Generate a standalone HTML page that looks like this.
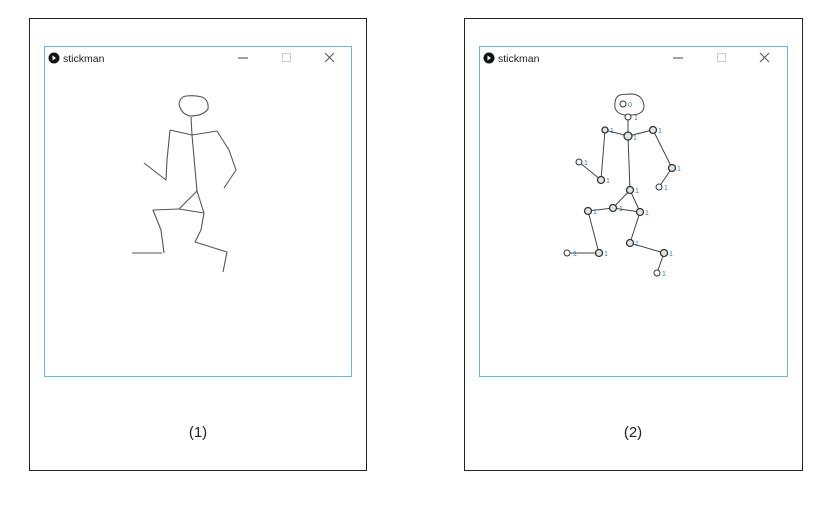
<!DOCTYPE html>
<html><head><style>
body{margin:0;background:#fff;width:832px;height:502px;overflow:hidden;font-family:"Liberation Sans",sans-serif}
</style></head><body>
<svg width="832" height="502" viewBox="0 0 832 502" xmlns="http://www.w3.org/2000/svg" font-family="Liberation Sans, sans-serif">
<rect x="29.5" y="18.5" width="337" height="452" fill="#fff" stroke="#222" stroke-width="1"/>
<rect x="464.5" y="18.5" width="338" height="452" fill="#fff" stroke="#222" stroke-width="1"/>
<rect x="44.5" y="46.5" width="307" height="330" fill="#fff" stroke="#5bc0eb" stroke-width="1"/>
<rect x="479.5" y="46.5" width="308" height="330" fill="#fff" stroke="#5bc0eb" stroke-width="1"/>
<g id="tb1">
<circle cx="54" cy="58" r="5.5" fill="#111"/><path d="M52.5 55.5 L56 58 L52.5 60.5Z" fill="#fff"/>
<text x="63" y="62" font-size="10.5" fill="#222">stickman</text>
<line x1="238" y1="58" x2="248" y2="58" stroke="#444"/>
<rect x="282.5" y="53.5" width="8" height="8" fill="none" stroke="#ccc"/>
<path d="M325 53 L334 62 M334 53 L325 62" stroke="#555"/>
</g>
<g transform="translate(435,0)">
<circle cx="54" cy="58" r="5.5" fill="#111"/><path d="M52.5 55.5 L56 58 L52.5 60.5Z" fill="#fff"/>
<text x="63" y="62" font-size="10.5" fill="#222">stickman</text>
<line x1="238" y1="58" x2="248" y2="58" stroke="#444"/>
<rect x="282.5" y="53.5" width="8" height="8" fill="none" stroke="#ccc"/>
<path d="M325 53 L334 62 M334 53 L325 62" stroke="#555"/>
</g>
<g fill="none" stroke="#555" stroke-width="1.1" stroke-linejoin="round">
<path d="M186 96 Q180 97 179 104 Q181 114 190 116 Q203 116 208 109 Q209 100 202 97 Q195 95 186 96Z"/>
<path d="M191 117 L192 135"/>
<path d="M170 130 L192 135 L217 131"/>
<path d="M170 130 L167 160 L166 180 L144 163"/>
<path d="M217 131 L229 150 L236 170 L224 188"/>
<path d="M192 135 L197 191"/>
<path d="M197 191 L179 209 L204 213 Z"/>
<path d="M179 209 L153 210 L161 230 L164 253"/>
<path d="M132 253 L162 253"/>
<path d="M204 213 L201 230 L195 242 L227 252 L223 272"/>
</g>
<g fill="none" stroke="#444" stroke-width="1">
<path d="M620 95 Q614 97 615 108 Q618 116 630 115 Q644 115 644 106 Q643 95 632 94 Q625 94 620 95Z"/>
<path d="M628 117 L628 136 M605 130 L628 136 L653 130 M605 130 L601 180 L579 162 M653 130 L672 168 L659 187 M628 136 L630 190 L613 208 L640 212 L630 190 M613 208 L588 211 L599 253 L567 253 M640 212 L630 243 L664 253 L657 273"/>
</g>
<g fill="#e4e4e4" stroke="#333" stroke-width="1.3">
<circle cx="623" cy="104" r="3" fill="#fff" stroke-width="1"/><circle cx="628" cy="117" r="3" fill="#fff" stroke-width="1"/>
<circle cx="605" cy="130" r="3"/><circle cx="628" cy="136" r="4"/><circle cx="653" cy="130" r="3.5"/>
<circle cx="601" cy="180" r="3.5"/><circle cx="579" cy="162" r="3" fill="#fff" stroke-width="1"/>
<circle cx="672" cy="168" r="3.5"/><circle cx="659" cy="187" r="3" fill="#fff" stroke-width="1"/>
<circle cx="630" cy="190" r="3.5"/><circle cx="613" cy="208" r="3.5"/><circle cx="640" cy="212" r="3.5"/>
<circle cx="588" cy="211" r="3.5"/><circle cx="599" cy="253" r="3.5"/><circle cx="567" cy="253" r="3" fill="#fff" stroke-width="1"/>
<circle cx="630" cy="243" r="3.5"/><circle cx="664" cy="253" r="3.5"/><circle cx="657" cy="273" r="3" fill="#fff" stroke-width="1"/>
</g>
<g fill="#2a7fc0" font-size="7">
<text x="628" y="107">0</text><text x="634" y="120">1</text><text x="610" y="133">1</text><text x="633" y="140">1</text>
<text x="658" y="133">1</text><text x="606" y="183">1</text><text x="584" y="165">1</text><text x="677" y="171">1</text>
<text x="664" y="190">1</text><text x="635" y="193">1</text><text x="619" y="211">1</text><text x="645" y="215">1</text>
<text x="593" y="214">1</text><text x="604" y="256">1</text><text x="573" y="256">1</text><text x="635" y="246">1</text>
<text x="669" y="256">1</text><text x="662" y="276">1</text>
</g>
<text x="198" y="437" font-size="15" text-anchor="middle" fill="#222">(1)</text>
<text x="633" y="437" font-size="15" text-anchor="middle" fill="#222">(2)</text>
</svg>
</body></html>
